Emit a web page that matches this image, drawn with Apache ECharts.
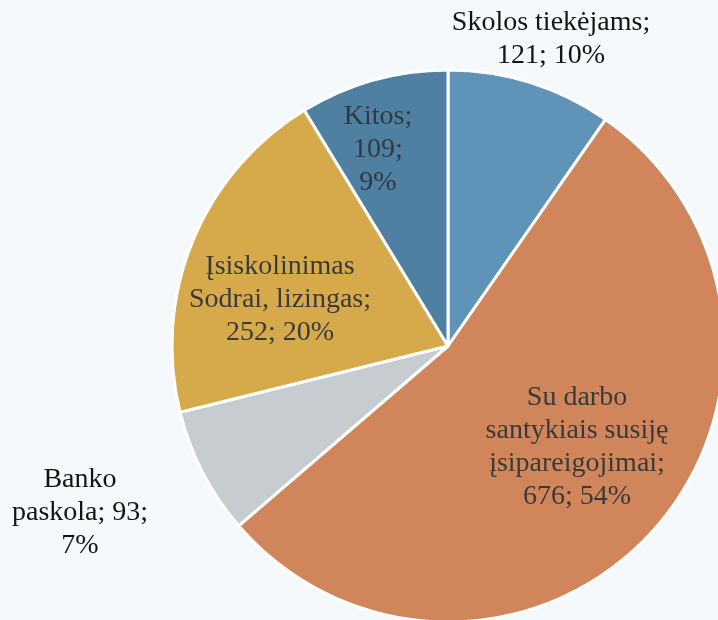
<!DOCTYPE html>
<html>
<head>
<meta charset="utf-8">
<script src="https://cdn.jsdelivr.net/npm/echarts@6/dist/echarts.min.js"></script>
<style>
  html, body { margin: 0; padding: 0; background: #f5f9fb; }
  #chart { width: 718px; height: 620px; }
</style>
</head>
<body>
<div id="chart"></div>
<script>
const categories = [
  'Skolos tiekėjams',
  'Su darbo\nsantykiais susiję\nįsipareigojimai',
  'Banko\npaskola',
  'Įsiskolinimas\nSodrai, lizingas',
  'Kitos'
]
const values = [121, 676, 93, 252, 109]
const colors = ['#5f93b7', '#d0865a', '#c7ccd1', '#d6aa4b', '#4f7fa1']

// how name / value / percent are joined in each label
const nameJoin = ['\n', '\n', ' ', '\n', '\n']
const valueJoin = ['; ', '; ', ';\n', '; ', ';\n']

// label centres (px)
const labelSpots = [[551, 39], [577, 447], [80, 513], [280, 300], [378, 150]]

const chart = echarts.init(document.getElementById('chart'))

chart.setOption({
  backgroundColor: '#f5f9fb',
  animation: false,
  series: [{
    type: 'pie',
    center: [448, 346],
    radius: 276,
    startAngle: 90,
    clockwise: true,
    percentPrecision: 0,
    itemStyle: { borderColor: '#ffffff', borderWidth: 3 },
    label: {
      show: true,
      position: 'inside',
      fontFamily: 'Liberation Serif',
      fontSize: 28,
      lineHeight: 33,
      align: 'center',
      color: '#3a3a3a',
      formatter: (p) => {
        const i = p.dataIndex
        return p.name + ';' + nameJoin[i] + p.value + valueJoin[i] + p.percent + '%'
      }
    },
    labelLine: { show: false },
    labelLayout: (p) => ({
      x: labelSpots[p.dataIndex][0],
      y: labelSpots[p.dataIndex][1],
      align: 'center',
      verticalAlign: 'middle'
    }),
    data: categories.map((name, i) => ({
      name,
      value: values[i],
      itemStyle: { color: colors[i] },
      label: (i === 0 || i === 2) ? { color: '#141414' } : (i === 4 ? { color: '#2f3a42' } : undefined)
    }))
  }]
})
</script>
</body>
</html>
